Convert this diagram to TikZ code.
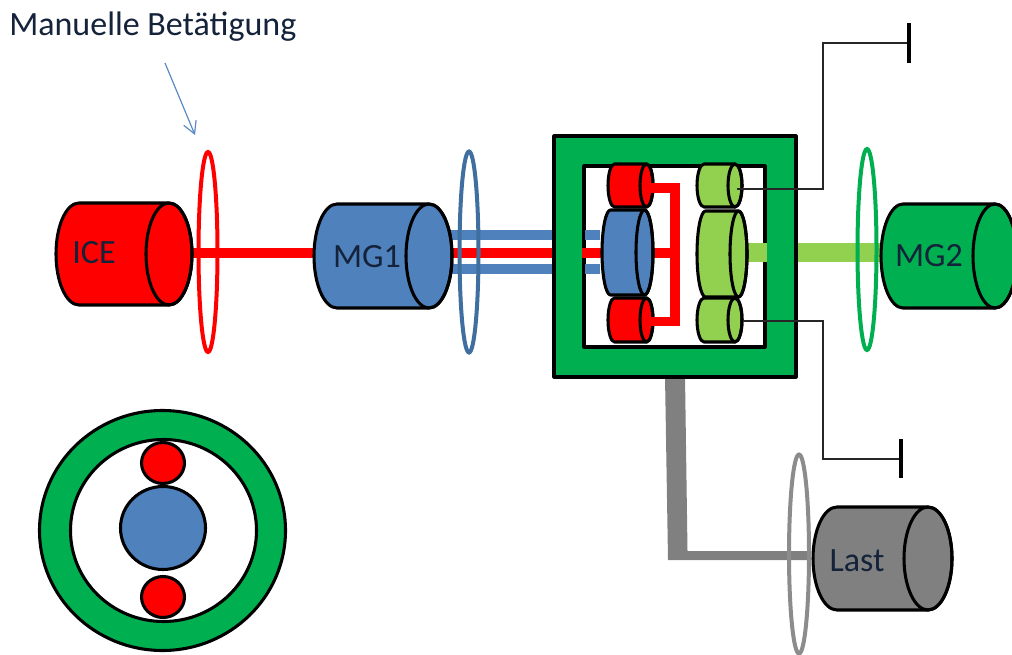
\documentclass[tikz,border=0pt]{standalone}
\usepackage{fontspec}
\setmainfont{Carlito}
\usetikzlibrary{arrows.meta}
\definecolor{cred}{HTML}{FF0000}
\definecolor{cblue}{HTML}{4F81BD}
\definecolor{cclutch}{HTML}{3F6F9F}
\definecolor{cgreen}{HTML}{00B050}
\definecolor{clight}{HTML}{92D050}
\definecolor{cgray}{HTML}{808080}
\definecolor{cgrayc}{HTML}{8C8C8C}
\definecolor{carrow}{HTML}{5B8BC4}
\definecolor{ctext}{HTML}{14233A}
\tikzset{
  px/.style={x=0.75pt,y=-0.75pt},
  outline/.style={draw=black,line width=2.3pt,line join=round},
  clutch/.style={draw=#1,line width=3pt,fill=none},
  shaft/.style={draw=#1,line width=7pt,line cap=butt},
  wire/.style={draw=black!85,line width=1.2pt,line join=miter},
  tickbar/.style={draw=black,line width=2.4pt},
  lab/.style={font=\fontsize{25.5pt}{28pt}\selectfont,text=ctext,inner sep=0pt},
}
% \cylinder{name}{x1}{x2}{top}{bottom}{rx}{colour}
\newcommand{\cylinder}[7]{%
  \pgfmathsetmacro{\cRx}{#6*0.75}%
  \pgfmathsetmacro{\cRy}{(#5-#4)/2*0.75}%
  \pgfmathsetmacro{\cA}{#2+#6}%
  \pgfmathsetmacro{\cB}{#3-#6}%
  \pgfmathsetmacro{\cM}{(#4+#5)/2}%
  \coordinate (#1) at (\cB,\cM);
  \path[outline,fill=#7] (\cA,#4) -- (\cB,#4)
     arc[start angle=90,end angle=-90,x radius=\cRx pt,y radius=\cRy pt]
     -- (\cA,#5)
     arc[start angle=270,end angle=90,x radius=\cRx pt,y radius=\cRy pt] -- cycle;
  \path[outline] (#1) ellipse[x radius=\cRx pt,y radius=\cRy pt];
}
% \clutchring{name}{x}{y}{rx}{ry}{colour}
\newcommand{\clutchring}[6]{%
  \pgfmathsetmacro{\cRx}{#4*0.75}%
  \pgfmathsetmacro{\cRy}{#5*0.75}%
  \coordinate (#1) at (#2,#3);
  \path[clutch=#6] (#1) ellipse[x radius=\cRx pt,y radius=\cRy pt];
}
% \discshape{name}{x}{y}{rx}{ry}{colour}
\newcommand{\discshape}[6]{%
  \pgfmathsetmacro{\cRx}{#4*0.75}%
  \pgfmathsetmacro{\cRy}{#5*0.75}%
  \coordinate (#1) at (#2,#3);
  \path[outline,fill=#6] (#1) ellipse[x radius=\cRx pt,y radius=\cRy pt];
}
\begin{document}
\begin{tikzpicture}[px]
\useasboundingbox (0,0) rectangle (1012,655);
\clip (0,0) rectangle (1012,655);
\fill[white] (0,0) rectangle (1012,655);

% free coordinates of the shafts
\coordinate (iceR) at (190,253);
\coordinate (mgL) at (318,253);
\coordinate (mgR) at (450,253);
\coordinate (boxL) at (556,253);
\coordinate (bu1) at (450,235);
\coordinate (bu2) at (556,235);
\coordinate (bl1) at (450,269);
\coordinate (bl2) at (556,269);
\coordinate (gs1) at (745,252.5);
\coordinate (gs2) at (884,252.5);

% outer shafts
\draw[shaft=cred] (iceR) -- (mgL);
\draw[shaft=cred] (mgR) -- (boxL);
\draw[shaft=cblue] (bu1) -- (bu2);
\draw[shaft=cblue] (bl1) -- (bl2);
\draw[draw=clight,line width=14.5pt] (gs1) -- (gs2);

% grey output
\fill[cgray] (665,376) -- (685,376) -- (687.5,551) -- (809,551) -- (809,560) -- (668,560) -- cycle;

% ring gear box
\path[outline,fill=cgreen] (554,136) rectangle (796,377);
\path[outline,fill=white] (584,166) rectangle (765,347);

% inner shaft stubs
\coordinate (s1) at (582,253);
\coordinate (s2) at (606,253);
\coordinate (s3) at (585,235);
\coordinate (s4) at (600,235);
\coordinate (s5) at (585,269);
\coordinate (s6) at (600,269);
\coordinate (s7) at (650,253);
\coordinate (s8) at (675,253);
\coordinate (s9) at (745,252.5);
\coordinate (s10) at (767,252.5);
\draw[shaft=cred] (s1) -- (s2);
\draw[shaft=cblue] (s3) -- (s4);
\draw[shaft=cblue] (s5) -- (s6);
\draw[shaft=cred] (s7) -- (s8);
\draw[draw=clight,line width=14.5pt] (s9) -- (s10);

% planetary gears
\cylinder{pt}{608}{653}{164}{207}{6.5}{cred}
\cylinder{pb}{608}{653}{298}{342}{6.5}{cred}
\cylinder{sun}{602}{653}{210}{295}{8.5}{cblue}
\cylinder{gt}{697}{742}{164}{207}{7}{clight}
\cylinder{gb}{697}{742}{298}{342}{7}{clight}
\cylinder{gm}{697}{747}{211}{297}{8.5}{clight}

% planet carrier
\coordinate (c1) at (649,188);
\coordinate (c2) at (675,188);
\coordinate (c3) at (675,321.5);
\coordinate (c4) at (649,321.5);
\draw[draw=cred,line width=6.8pt,line join=miter] (c1) -- (c2) -- (c3) -- (c4);

% machines
\cylinder{icec}{56}{192}{203}{305}{23}{cred}
\cylinder{mgc}{314}{452}{204}{308}{23}{cblue}
\cylinder{mgz}{881}{1017}{204}{308}{22}{cgreen}
\cylinder{lastc}{813}{952}{507}{610}{24}{cgray}
\node[lab] (ice) at (94,253) {ICE};
\node[lab] (mg1) at (367,257) {MG1};
\node[lab] (mg2) at (929,256) {MG2};
\node[lab] (last) at (857,561) {Last};

% clutches
\clutchring{k1}{208}{252}{9.5}{100}{cred}
\clutchring{k2}{469}{252}{9.5}{100.5}{cclutch}
\clutchring{k3}{867}{249.5}{9.5}{100.5}{cgreen}
\clutchring{k4}{799}{554}{10}{99.5}{cgrayc}

% brakes
\coordinate (w1) at (737,189);
\coordinate (w2) at (823,189);
\coordinate (w3) at (823,43);
\coordinate (w4) at (909,43);
\coordinate (t1) at (909,23);
\coordinate (t2) at (909,63);
\draw[wire] (w1) -- (w2) -- (w3) -- (w4);
\draw[tickbar] (t1) -- (t2);
\coordinate (v1) at (743,321);
\coordinate (v2) at (823,321);
\coordinate (v3) at (823,459);
\coordinate (v4) at (901,459);
\coordinate (u1) at (901,439);
\coordinate (u2) at (901,478);
\draw[wire] (v1) -- (v2) -- (v3) -- (v4);
\draw[tickbar] (u1) -- (u2);

% label and arrow
\node[lab,anchor=base west] (manual) at (9,36) {Manuelle Betätigung};
\coordinate (a1) at (165,63);
\coordinate (a2) at (195,135);
\draw[carrow,line width=0.9pt,-{Straight Barb[length=9pt,width=10pt,line width=0.9pt]}] (a1) -- (a2);

% cross-section
\discshape{ring}{162.5}{530.5}{123}{120}{cgreen}
\discshape{hole}{163.5}{530.5}{93}{91}{white}
\discshape{csun}{163}{528}{42.5}{41.5}{cblue}
\discshape{cp1}{163}{463}{21.5}{20.5}{cred}
\discshape{cp2}{163}{597}{21.5}{20.5}{cred}
\end{tikzpicture}
\end{document}
